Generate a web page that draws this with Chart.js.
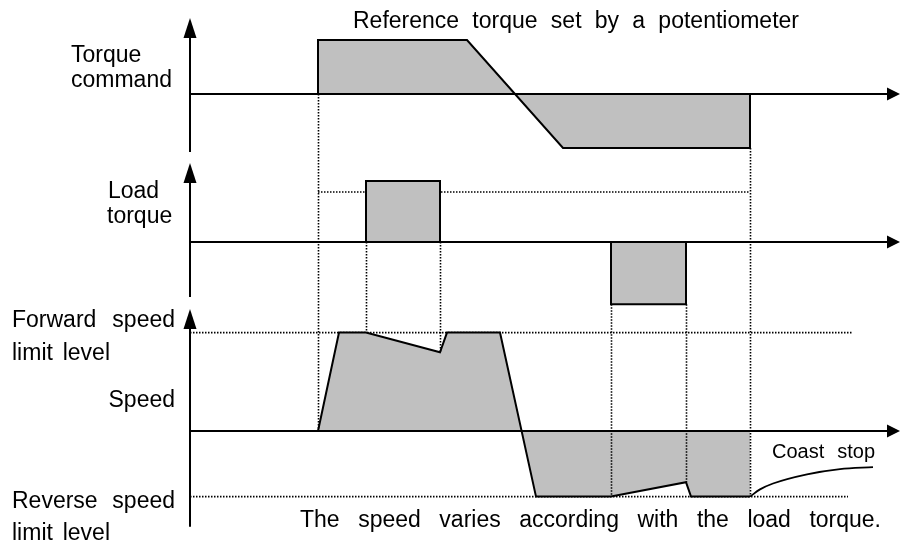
<!DOCTYPE html>
<html>
<head>
<meta charset="utf-8">
<script src="https://cdn.jsdelivr.net/npm/chart.js@4/dist/chart.umd.min.js"></script>
<style>
  html, body { margin: 0; padding: 0; background: #fff; }
  #wrap { position: relative; width: 902px; height: 542px; }
</style>
</head>
<body>
<div id="wrap"><canvas id="c"></canvas></div>
<script>
// Time axis (arbitrary units, 0 = vertical axis of each trace)
const T_END = 71.0;            // tip of the time arrows

// Torque command: step up, ramp through zero to the negative level, then off
const cmdT = [12.8, 12.8, 27.7, 37.3, 56.0, 56.0];
const cmdV = [0, 1, 1, -1, -1, 0];

// Load torque: positive pulse, then negative pulse
const loadPosT = [17.6, 17.6, 25.0, 25.0];
const loadPosV = [0, 1, 1, 0];
const loadNegT = [42.1, 42.1, 49.6, 49.6];
const loadNegV = [0, -1.02, -1.02, 0];
const loadRefLevel = 0.82;     // dotted reference level in the load trace
const loadRefSpan = [12.8, 56.0];

// Speed (% of reverse speed limit)
const spdT = [12.8, 14.9, 17.6, 25.0, 25.7, 31.0, 34.6, 42.1, 49.6, 50.1, 56.0];
const spdV = [0, 150, 150, 120, 150, 150, -100, -100, -78, -100, -100];
const fwdLimit = 150, revLimit = -100;
const fwdLimitEnd = 66.3, revLimitEnd = 65.8;

// Coast stop after the drive is switched off
const coastT = [56.0, 57.0, 58.3, 61.7, 65.0, 68.3];
const coastV = [-100, -89, -80, -66, -58, -55];

// Vertical dotted guides: [time, scale, value] -> [scale, value]
const guides = [
  [12.8, 'cmd', 0, 'spd', 0],
  [17.6, 'load', 0, 'spd', 150],
  [25.0, 'load', 0, 'spd', 120],
  [42.1, 'load', -1.02, 'spd', -100],
  [49.6, 'load', -1.02, 'spd', -78],
  [56.0, 'cmd', -1, 'spd', -100]
];

// Axis extents of each trace (value at bottom, value at arrow tip)
const axes = [
  { id: 'cmd',  lo: -1.074, hi: 1.407 },
  { id: 'load', lo: -0.90,  hi: 1.295 },
  { id: 'spd',  lo: -146,   hi: 186 }
];

const toXY = (xs, ys) => xs.map((x, i) => ({ x, y: ys[i] }));

// Each trace shares the full drawing area; its zero line sits at basePx
const H = 542;
function panel(basePx, pxPerUnit) {
  return { min: -(H - basePx) / pxPerUnit, max: basePx / pxPerUnit };
}

const GRAY = '#c0c0c0';
const DASH = [1.5, 1.5];
const wave = (data, axis, order) => ({
  data, yAxisID: axis, order,
  borderColor: '#000', borderWidth: 2, backgroundColor: GRAY,
  fill: 'origin', pointRadius: 0, tension: 0, borderJoinStyle: 'miter'
});
const dotted = (data, axis) => ({
  data, yAxisID: axis, order: 10,
  borderColor: '#000', borderWidth: 1.6, borderDash: DASH,
  fill: false, pointRadius: 0, tension: 0
});

const FONT = '"Liberation Sans", Arial, sans-serif';
const labels = [
  { text: 'Reference torque set by a potentiometer', x0: 353, x1: 799, y: 28 },
  { text: 'Torque', x0: 71, y: 62 },
  { text: 'command', x0: 71, y: 87 },
  { text: 'Load', x0: 108, y: 198 },
  { text: 'torque', x0: 107, y: 223 },
  { text: 'Forward speed', x0: 12, x1: 175, y: 327 },
  { text: 'limit level', x0: 12, x1: 110, y: 360 },
  { text: 'Speed', right: 175, y: 407 },
  { text: 'Reverse speed', x0: 12, x1: 175, y: 508 },
  { text: 'limit level', x0: 12, x1: 110, y: 540 },
  { text: 'The speed varies according with the load torque.', x0: 300, x1: 881, y: 527 },
  { text: 'Coast stop', x0: 772, x1: 875, y: 458, size: 20 }
];

// Words spread between x0 and x1 (justified), or anchored left/right
function drawLabel(ctx, l) {
  ctx.font = (l.size || 23) + 'px ' + FONT;
  ctx.fillStyle = '#000';
  ctx.textBaseline = 'alphabetic';
  if (l.right !== undefined) {
    ctx.textAlign = 'right';
    ctx.fillText(l.text, l.right, l.y);
    return;
  }
  ctx.textAlign = 'left';
  const words = l.text.split(' ');
  if (l.x1 === undefined || words.length < 2) {
    ctx.fillText(l.text, l.x0, l.y);
    return;
  }
  const widths = words.map(w => ctx.measureText(w).width);
  const total = widths.reduce((a, b) => a + b, 0);
  const gap = (l.x1 - l.x0 - total) / (words.length - 1);
  let x = l.x0;
  words.forEach((w, i) => { ctx.fillText(w, x, l.y); x += widths[i] + gap; });
}

function arrowHead(ctx, tipX, tipY, dir, len, half) {
  ctx.beginPath();
  if (dir === 'up') {
    ctx.moveTo(tipX, tipY);
    ctx.lineTo(tipX - half, tipY + len);
    ctx.lineTo(tipX + half, tipY + len);
  } else {
    ctx.moveTo(tipX, tipY);
    ctx.lineTo(tipX - len, tipY - half);
    ctx.lineTo(tipX - len, tipY + half);
  }
  ctx.closePath();
  ctx.fill();
}

const decor = {
  id: 'decor',
  afterDatasetsDraw(chart) {
    const ctx = chart.ctx, sx = chart.scales.x;
    ctx.save();
    // dotted guides linking the events of the traces
    ctx.strokeStyle = '#000';
    ctx.lineWidth = 1.6;
    ctx.setLineDash(DASH);
    guides.forEach(([t, a1, v1, a2, v2]) => {
      const x = Math.round(sx.getPixelForValue(t)) + 0.5;
      ctx.beginPath();
      ctx.moveTo(x, chart.scales[a1].getPixelForValue(v1));
      ctx.lineTo(x, chart.scales[a2].getPixelForValue(v2));
      ctx.stroke();
    });
    ctx.setLineDash([]);
    // axes with arrows
    ctx.fillStyle = '#000';
    ctx.lineWidth = 2;
    const x0 = sx.getPixelForValue(0), xe = sx.getPixelForValue(T_END);
    axes.forEach(a => {
      const s = chart.scales[a.id];
      const yb = s.getPixelForValue(0);
      const yTop = s.getPixelForValue(a.hi), yBot = s.getPixelForValue(a.lo);
      ctx.beginPath();
      ctx.moveTo(x0, yb); ctx.lineTo(xe - 10, yb);
      ctx.moveTo(x0, yBot); ctx.lineTo(x0, yTop + 15);
      ctx.stroke();
      arrowHead(ctx, x0, yTop, 'up', 20, 6.5);
      arrowHead(ctx, xe, yb, 'right', 13, 6.5);
    });
    labels.forEach(l => drawLabel(ctx, l));
    ctx.restore();
  }
};

new Chart(document.getElementById('c'), {
  type: 'line',
  data: {
    datasets: [
      wave(toXY(cmdT, cmdV), 'cmd', 1),
      wave(toXY(loadPosT, loadPosV), 'load', 1),
      wave(toXY(loadNegT, loadNegV), 'load', 1),
      wave(toXY(spdT, spdV), 'spd', 1),
      {
        data: toXY(coastT, coastV), yAxisID: 'spd', order: 0,
        borderColor: '#000', borderWidth: 1.8, fill: false,
        pointRadius: 0, cubicInterpolationMode: 'monotone'
      },
      dotted(toXY(loadRefSpan, [loadRefLevel, loadRefLevel]), 'load'),
      dotted(toXY([0, fwdLimitEnd], [fwdLimit, fwdLimit]), 'spd'),
      dotted(toXY([0, revLimitEnd], [revLimit, revLimit]), 'spd')
    ]
  },
  options: {
    responsive: true,
    maintainAspectRatio: false,
    animation: false,
    layout: { padding: 0 },
    plugins: { legend: { display: false }, tooltip: { enabled: false } },
    scales: {
      x: { type: 'linear', display: false, min: -19, max: 71.2 },
      cmd: { type: 'linear', display: false, ...panel(94, 54) },
      load: { type: 'linear', display: false, ...panel(242, 61) },
      spd: { type: 'linear', display: false, ...panel(431, 0.656) }
    }
  },
  plugins: [decor]
});
</script>
</body>
</html>
